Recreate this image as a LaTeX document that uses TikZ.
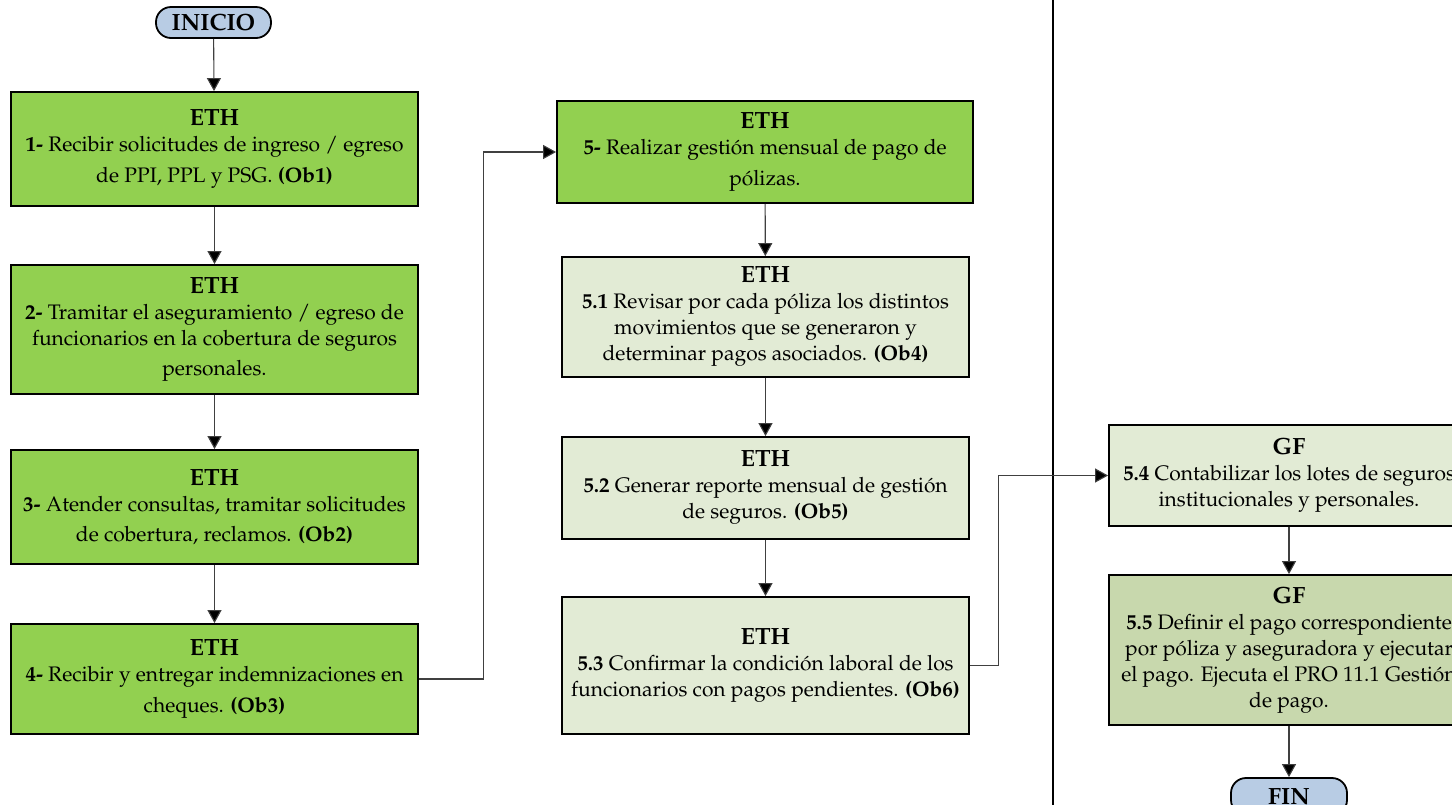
\documentclass[tikz,border=0pt]{standalone}
\usepackage[T1]{fontenc}
\usepackage{mathpazo}
\usetikzlibrary{arrows.meta}

\definecolor{stepgreen}{HTML}{92D050}
\definecolor{palegreen}{HTML}{E2EBD5}
\definecolor{olivegreen}{HTML}{C8D8AD}
\definecolor{termblue}{HTML}{B8CCE4}
\definecolor{linegray}{HTML}{404040}

\newcommand{\bodytext}{\fontsize{21}{26}\selectfont}
\newcommand{\roletag}[1]{{\fontsize{23.5}{26}\selectfont\bfseries #1}}

\tikzset{
  x=1pt, y=-1pt,
  taskbox/.style={draw=black, line width=1.8pt, align=center, inner sep=0pt,
    font=\bodytext},
  mainstep/.style={taskbox, fill=stepgreen, minimum width=407pt},
  substep/.style={taskbox, fill=palegreen, minimum width=407pt},
  gfstep/.style={taskbox, fill=olivegreen, minimum width=360pt},
  terminal/.style={draw=black, line width=1.8pt, fill=termblue,
    rounded corners=15pt, inner sep=0pt, font=\fontsize{23.5}{26}\selectfont\bfseries},
  conn/.style={draw=linegray, line width=1.1pt,
    -{Triangle[width=14pt,length=13pt,fill=black]}},
}

\begin{document}
\begin{tikzpicture}
\useasboundingbox (0,0) rectangle (1452,804);
\clip (0,0) rectangle (1452,804);

% lane separator
\draw[line width=2.4pt] (1053,-5) -- (1053,810);

% start
\node[terminal, minimum width=115pt, minimum height=31pt] (inicio) at (213.5,22.5) {INICIO};

% left column
\node[mainstep, minimum height=114pt] (b1) at (214.5,149) {\roletag{ETH}\\
  \textbf{1-} Recibir solicitudes de ingreso / egreso\\[5pt]
  de PPI, PPL y PSG. \textbf{(Ob1)}};
\node[mainstep, minimum height=129pt] (b2) at (214.5,329.5) {\roletag{ETH}\\
  \textbf{2-} Tramitar el aseguramiento / egreso de\\
  funcionarios en la cobertura de seguros\\[4pt]
  personales.};
\node[mainstep, minimum height=114pt] (b3) at (214.5,507) {\roletag{ETH}\\
  \textbf{3-} Atender consultas, tramitar solicitudes\\[4pt]
  de cobertura, reclamos. \textbf{(Ob2)}};
\node[mainstep, minimum height=110pt] (b4) at (214.5,679) {\roletag{ETH}\\
  \textbf{4-} Recibir y entregar indemnizaciones en\\[5pt]
  cheques. \textbf{(Ob3)}};

% middle column
\node[mainstep, minimum width=416pt, minimum height=102pt] (b5) at (765,152) {\roletag{ETH}\\
  \textbf{5-} Realizar gesti\'on mensual de pago de\\[5pt]
  p\'olizas.};
\node[substep, minimum height=120pt] (b51) at (765.5,317) {\roletag{ETH}\\
  \textbf{5.1} Revisar por cada p\'oliza los distintos\\
  movimientos que se generaron y\\
  determinar pagos asociados. \textbf{(Ob4)}};
\node[substep, minimum height=102pt] (b52) at (765.5,488) {\roletag{ETH}\\
  \textbf{5.2} Generar reporte mensual de gesti\'on\\
  de seguros. \textbf{(Ob5)}};
\node[substep, minimum height=137pt] (b53) at (765.5,665.5) {\roletag{ETH}\\
  \textbf{5.3} Confirmar la condici\'on laboral de los\\
  funcionarios con pagos pendientes. \textbf{(Ob6)}};

% right lane
\node[substep, minimum width=360pt, minimum height=101pt] (b54) at (1289,475.5) {\roletag{GF}\\
  \textbf{5.4} Contabilizar los lotes de seguros\\
  institucionales y personales.};
\node[gfstep, minimum height=150pt] (b55) at (1289,650) {\roletag{GF}\\
  \textbf{5.5} Definir el pago correspondiente\\
  por p\'oliza y aseguradora y ejecutar\\
  el pago. Ejecuta el PRO 11.1 Gesti\'on\\
  de pago.};
\node[terminal, minimum width=116pt, minimum height=37pt] (fin) at (1289,796.5) {FIN};

% flow
\draw[conn] (inicio) -- (b1);
\draw[conn] (b1) -- (b2);
\draw[conn] (b2) -- (b3);
\draw[conn] (b3) -- (b4);
\draw[conn] (b4.east) -- ++(65,0) |- (b5.west);
\draw[conn] (b5) -- (b51);
\draw[conn] (b51) -- (b52);
\draw[conn] (b52) -- (b53);
\draw[conn] (b53.east) -- ++(29,0) |- (b54.west);
\draw[conn] (b54) -- (b55);
\draw[conn] (b55) -- (fin);
\end{tikzpicture}
\end{document}
